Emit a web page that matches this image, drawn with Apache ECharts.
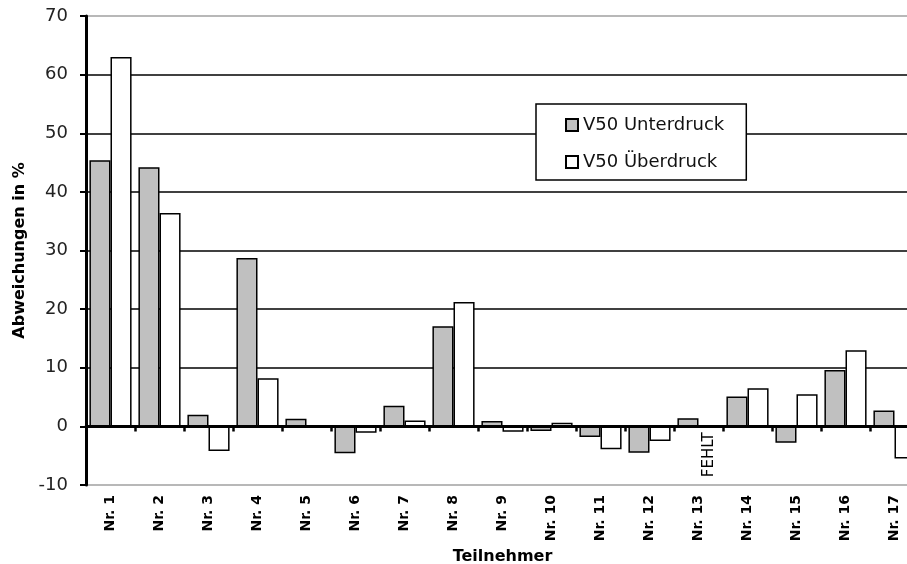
<!DOCTYPE html>
<html>
<head>
<meta charset="utf-8">
<script src="https://cdn.jsdelivr.net/npm/echarts@6/dist/echarts.min.js"></script>
<style>
html,body{margin:0;padding:0;background:#fff;}
#chart{width:907px;height:564px;}
</style>
</head>
<body>
<div id="chart"></div>
<script>
const categories = ['Nr. 1','Nr. 2','Nr. 3','Nr. 4','Nr. 5','Nr. 6','Nr. 7','Nr. 8','Nr. 9','Nr. 10','Nr. 11','Nr. 12','Nr. 13','Nr. 14','Nr. 15','Nr. 16','Nr. 17'];
const unterdruck = [45.4, 44.2, 2.0, 28.7, 1.3, -4.6, 3.5, 17.1, 0.9, -0.8, -1.8, -4.5, 1.4, 5.1, -2.8, 9.6, 2.7];
const ueberdruck = [63.0, 36.4, -4.2, 8.2, 0, -1.1, 1.0, 21.2, -0.9, 0.6, -3.9, -2.5, null, 6.5, 5.5, 13.0, -5.5];
const ueberdruckNotes = ['', '', '', '', '', '', '', '', '', '', '', '', 'FEHLT', '', '', '', ''];
const seriesNames = ['V50 Unterdruck', 'V50 Überdruck'];
const yTicks = {min: -10, max: 70, interval: 10};
const axisNames = {x: 'Teilnehmer', y: 'Abweichungen in %'};

const FONT = 'DejaVu Sans';

const ueberData = ueberdruck.map((v, i) => {
  if (v === null && ueberdruckNotes[i]) {
    return {
      value: 0,
      itemStyle: {borderWidth: 0},
      label: {
        show: true,
        formatter: ueberdruckNotes[i],
        position: 'bottom',
        rotate: 90,
        align: 'right',
        verticalAlign: 'middle',
        distance: 6,
        fontFamily: FONT,
        fontSize: 15,
        color: '#000'
      }
    };
  }
  return v;
});

const chart = echarts.init(document.getElementById('chart'), null, {renderer: 'canvas'});
chart.setOption({
  animation: false,
  backgroundColor: '#fff',
  grid: {left: 86, right: -12, top: 16, bottom: 79, containLabel: false, outerBoundsMode: 'none'},
  legend: {
    orient: 'vertical',
    left: 536,
    top: 104,
    padding: [12, 22, 9, 29],
    itemWidth: 12,
    itemHeight: 12,
    itemGap: 19,
    icon: 'rect',
    backgroundColor: '#fff',
    borderColor: '#000',
    borderWidth: 1.5,
    textStyle: {fontFamily: FONT, fontSize: 18, color: '#111'},
    data: seriesNames
  },
  xAxis: [
    {
      type: 'category',
      data: categories,
      position: 'bottom',
      axisLine: {show: false, onZero: false},
      axisTick: {show: false},
      axisLabel: {rotate: 90, margin: 10, fontFamily: FONT, fontSize: 14, fontWeight: 'bold', color: '#000', interval: 0},
      name: axisNames.x,
      nameLocation: 'middle',
      nameGap: 63,
      nameTextStyle: {fontFamily: FONT, fontSize: 16, fontWeight: 'bold', color: '#000'},
      splitLine: {show: false}
    },
    {
      type: 'category',
      data: categories,
      position: 'bottom',
      axisLine: {show: true, onZero: true, lineStyle: {color: '#000', width: 3}},
      axisTick: {show: true, inside: false, length: 5, lineStyle: {color: '#000', width: 2.5}},
      axisLabel: {show: false},
      splitLine: {show: false}
    }
  ],
  yAxis: {
    type: 'value',
    min: yTicks.min,
    max: yTicks.max,
    interval: yTicks.interval,
    axisLine: {show: true, onZero: false, lineStyle: {color: '#000', width: 3}},
    axisTick: {show: true, length: 6, lineStyle: {color: '#000', width: 2}},
    axisLabel: {margin: 18, fontFamily: FONT, fontSize: 18, color: '#222'},
    splitLine: {
      show: true,
      showMinLine: true,
      showMaxLine: true,
      lineStyle: {color: ['#a0a0a0', '#000', '#000', '#000', '#000', '#000', '#000', '#000', '#a0a0a0'], width: 1.5}
    },
    name: axisNames.y,
    nameLocation: 'middle',
    nameGap: 55,
    nameTextStyle: {fontFamily: FONT, fontSize: 16, fontWeight: 'bold', color: '#000'}
  },
  series: [
    {
      name: seriesNames[0],
      type: 'bar',
      xAxisIndex: 0,
      data: unterdruck,
      barGap: '0%',
      barCategoryGap: '14%',
      itemStyle: {color: '#c0c0c0', borderColor: '#000', borderWidth: 1.5}
    },
    {
      name: seriesNames[1],
      type: 'bar',
      xAxisIndex: 0,
      data: ueberData,
      barGap: '0%',
      barCategoryGap: '14%',
      itemStyle: {color: '#fff', borderColor: '#000', borderWidth: 1.5}
    }
  ]
});
</script>
</body>
</html>
